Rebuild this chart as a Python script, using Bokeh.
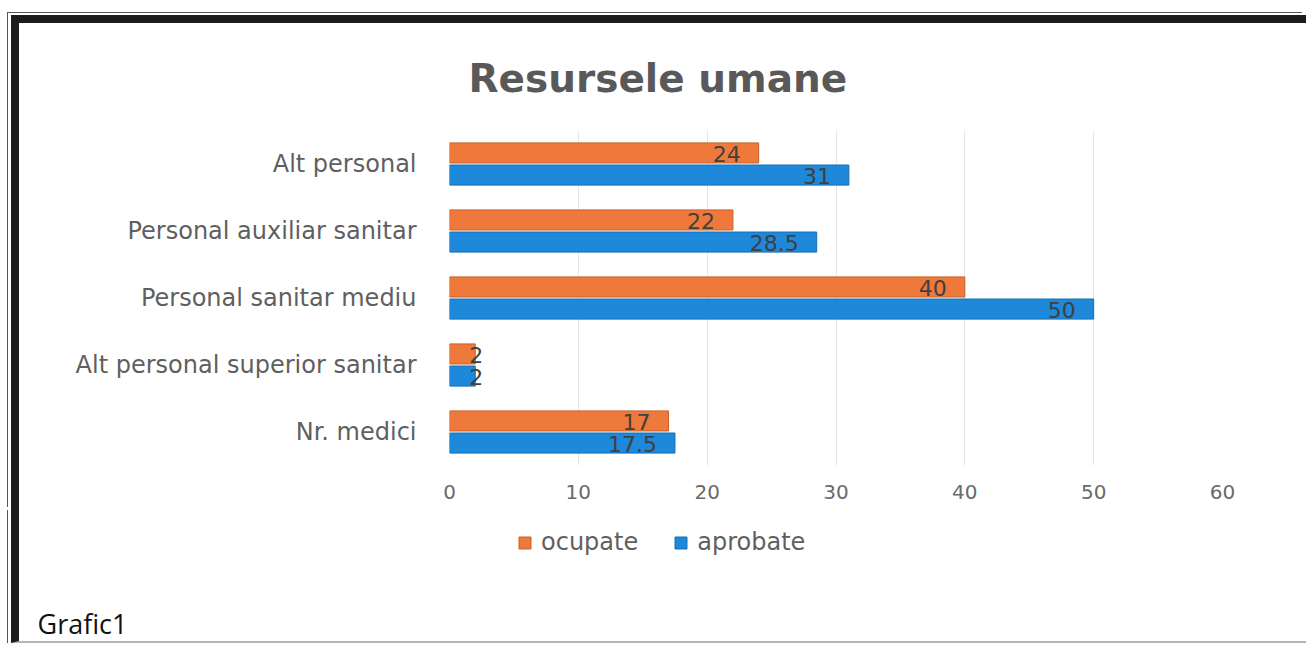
from bokeh.plotting import figure
from bokeh.layouts import column
from bokeh.models import ColumnDataSource, FactorRange, Legend, LegendItem, Title, FixedTicker
from bokeh.transform import dodge
from bokeh.embed import file_html
from bokeh.resources import INLINE
from bokeh.core.properties import value

# ---- data (bottom to top, as drawn) ----
categories = ["Nr. medici", "Alt personal superior sanitar", "Personal sanitar mediu",
              "Personal auxiliar sanitar", "Alt personal"]
ocupate = [17, 2, 40, 22, 24]
aprobate = [17.5, 2, 50, 28.5, 31]
x_ticks = [0, 10, 20, 30, 40, 50, 60]
title_text = "Resursele umane"
series_names = ["ocupate", "aprobate"]
caption = "Grafic1"


def fmt(v):
    return str(int(v)) if float(v).is_integer() else str(v)


ORANGE = "#EE793A"
BLUE = "#1E88DA"
GREY_TXT = "#5F5F5F"

src = ColumnDataSource(data=dict(
    cat=categories,
    ocupate=ocupate,
    aprobate=aprobate,
    lbl_o=[fmt(v) for v in ocupate],
    lbl_a=[fmt(v) for v in aprobate],
    off_o=[-18 if v > 5 else 8 for v in ocupate],
    off_a=[-18 if v > 5 else 8 for v in aprobate],
))

W, H1, H2 = 1295, 495, 133
p = figure(width=W, height=H1, y_range=FactorRange(factors=categories),
           x_range=(x_ticks[0], x_ticks[-1]),
           output_backend="svg", toolbar_location=None,
           min_border_left=430, min_border_right=92,
           min_border_top=107, min_border_bottom=H1 - 107 - 335)
p.styles = {
    "margin-left": "11px",
    "margin-top": "15px",
    "border-top": "8px solid #1c1c1c",
    "border-left": "8px solid #1c1c1c",
    "box-shadow": "-3px -2px 0 0 #ffffff, -4px -3px 0 0 #555555",
}
p.outline_line_color = None
p.background_fill_color = "white"
p.border_fill_color = "white"

DODGE = 0.165
BH = 0.30
r_o = p.hbar(y=dodge("cat", DODGE, range=p.y_range), right="ocupate", left=0, height=BH,
             source=src, fill_color=ORANGE, line_color="#C9612A", line_width=1)
r_a = p.hbar(y=dodge("cat", -DODGE, range=p.y_range), right="aprobate", left=0, height=BH,
             source=src, fill_color=BLUE, line_color="#176EB3", line_width=1)

p.text(x="ocupate", y=dodge("cat", DODGE, range=p.y_range), text="lbl_o", source=src,
       x_offset="off_o", y_offset=1, text_align="right", text_baseline="middle",
       text_font=value("DejaVu Sans"), text_font_size="22px", text_color="#404040")
p.text(x="aprobate", y=dodge("cat", -DODGE, range=p.y_range), text="lbl_a", source=src,
       x_offset="off_a", y_offset=1, text_align="right", text_baseline="middle",
       text_font=value("DejaVu Sans"), text_font_size="22px", text_color="#404040")

# axes
p.xaxis.ticker = FixedTicker(ticks=x_ticks)
p.xaxis.axis_line_color = None
p.xaxis.major_tick_line_color = None
p.xaxis.minor_tick_line_color = None
p.xaxis.major_label_standoff = 13
p.xaxis.major_label_text_font = "DejaVu Sans"
p.xaxis.major_label_text_font_size = "20px"
p.xaxis.major_label_text_color = "#6A6A6A"

p.yaxis.axis_line_color = None
p.yaxis.major_tick_line_color = None
p.yaxis.minor_tick_line_color = None
p.yaxis.major_label_standoff = 27
p.yaxis.major_label_text_font = "DejaVu Sans"
p.yaxis.major_label_text_font_size = "24px"
p.yaxis.major_label_text_color = GREY_TXT

p.ygrid.grid_line_color = None
p.xgrid.grid_line_color = "#E6E6E6"
p.xgrid.ticker = FixedTicker(ticks=x_ticks)

# title above the frame
p.add_layout(Title(text=title_text, align="left", offset=19, standoff=60,
                   text_font="DejaVu Sans", text_font_style="bold",
                   text_font_size="39px", text_color="#595959"), "above")

# ---- footer: legend + caption ----
f = figure(width=W, height=H2, x_range=(0, 1), y_range=(0, 1),
           output_backend="svg", toolbar_location=None,
           x_axis_location=None, y_axis_location=None, min_border=0)
f.styles = {
    "margin-left": "11px",
    "border-left": "8px solid #1c1c1c",
    "border-bottom": "2px solid #b5b5b5",
    "box-shadow": "-3px 0 0 0 #ffffff, -4px 0 0 0 #555555",
}
f.outline_line_color = None
f.grid.grid_line_color = None
f.background_fill_color = "white"
f.border_fill_color = "white"
# legend swatch renderers: a single NaN row, so nothing is plotted, only the legend glyph
nan = float("nan")
k_o = f.hbar(y=[nan], right=[nan], left=0, height=0.3, fill_color=ORANGE, line_color="#C9612A")
k_a = f.hbar(y=[nan], right=[nan], left=0, height=0.3, fill_color=BLUE, line_color="#176EB3")

legend = Legend(items=[LegendItem(label=series_names[0], renderers=[k_o]),
                       LegendItem(label=series_names[1], renderers=[k_a])],
                location=(68, 44), orientation="horizontal",
                padding=0, margin=0, spacing=35, label_standoff=9,
                glyph_width=15, glyph_height=15,
                label_text_font="DejaVu Sans", label_text_font_size="24px",
                label_text_color=GREY_TXT,
                border_line_color=None, background_fill_alpha=0)
f.add_layout(legend, "center")
f.add_layout(Title(text=caption, align="left", offset=-412, standoff=4,
                   vertical_align="bottom",
                   text_font="Open Sans", text_font_style="normal",
                   text_font_size="27px", text_color="#111111"), "below")

open("out.html", "w").write(file_html(column(p, f, spacing=0), INLINE))
